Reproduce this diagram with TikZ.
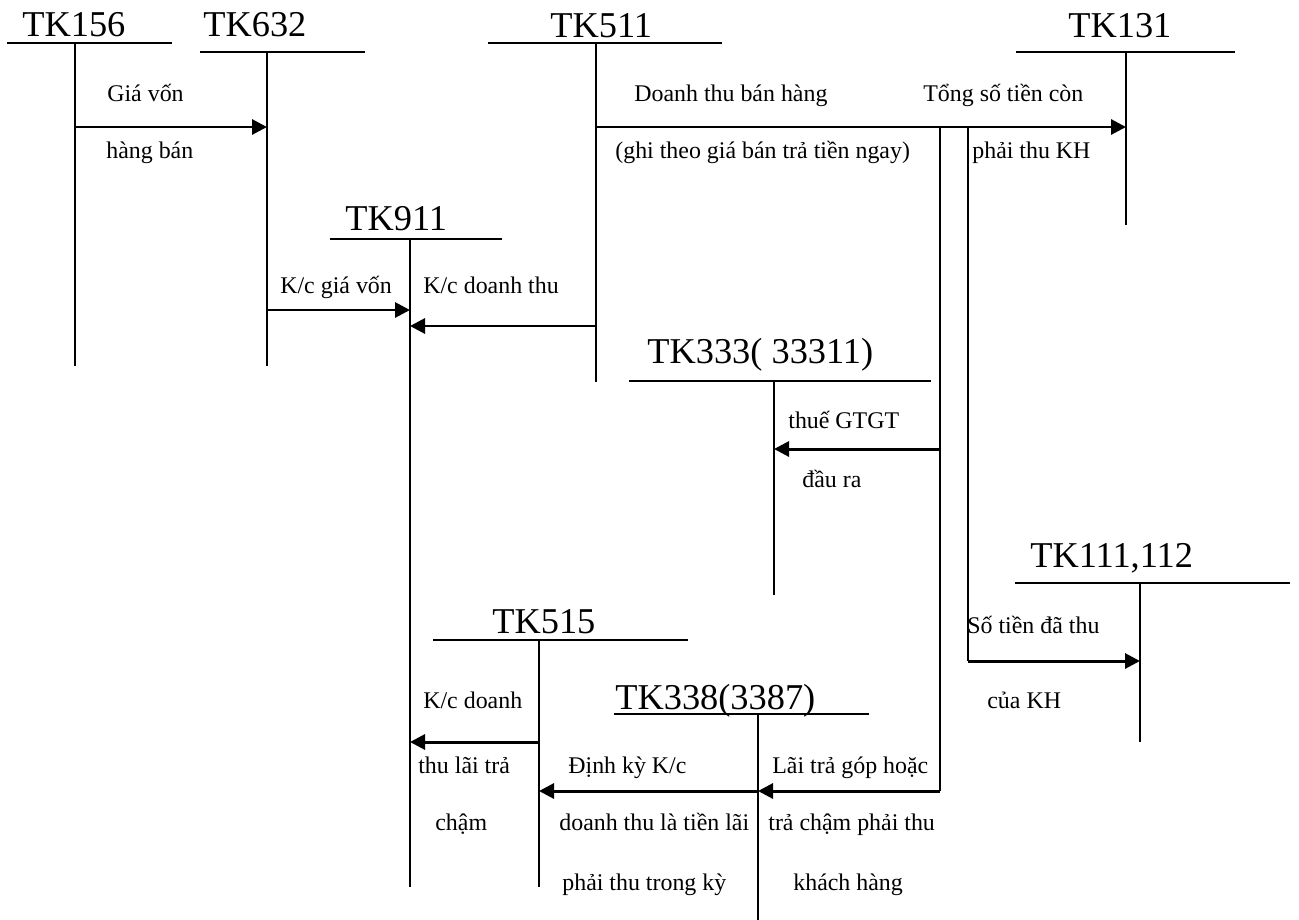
\documentclass[tikz,border=0pt]{standalone}
\usepackage{fontspec}
\setmainfont{Liberation Serif}
\usetikzlibrary{arrows.meta}
\tikzstyle{title} = [anchor=base west, inner sep=0pt, font=\fontsize{20.7}{24}\selectfont]
\tikzstyle{note} = [anchor=base west, inner sep=0pt, font=\fontsize{13.6}{16}\selectfont]
\tikzstyle{tline} = [line width=1.1pt]
\tikzstyle{arrow} = [line width=1.7pt, -{Triangle[length=0.3cm,width=0.3cm]}]

\begin{document}
\begin{tikzpicture}[x=0.02cm, y=-0.02cm]
\useasboundingbox (0,0) rectangle (1299,920);
% T accounts
\node[title] (tk156) at (22,36) {TK156};
\draw[tline] (7,43) -- (172,43) (75,43) -- (75,366);
\node[title] (tk632) at (203,36) {TK632};
\draw[tline] (200,52) -- (365,52) (267,52) -- (267,366);
\node[title] (tk511) at (550,37) {TK511};
\draw[tline] (488,43) -- (722,43) (596,43) -- (596,382);
\node[title] (tk131) at (1068,37) {TK131};
\draw[tline] (1016,52) -- (1235,52) (1126,52) -- (1126,225);
\node[title] (tk911) at (345,230) {TK911};
\draw[tline] (330,239) -- (502,239) (410,239) -- (410,887);
\node[title] (tk333) at (647,363) {TK333( 33311)};
\draw[tline] (629,381) -- (931,381) (774,381) -- (774,595);
\node[title] (tk111) at (1030,567) {TK111,112};
\draw[tline] (1015,583) -- (1290,583) (1140,583) -- (1140,742);
\node[title] (tk515) at (492,633) {TK515};
\draw[tline] (433,640) -- (688,640) (539,640) -- (539,887);
\node[title] (tk338) at (615,709) {TK338(3387)};
\draw[tline] (614,714) -- (869,714) (758,714) -- (758,920);

% points on the accounts
\coordinate (a156) at (75,127);
\coordinate (a632) at (267,127);
\coordinate (b632) at (267,310);
\coordinate (b911) at (410,310);
\coordinate (c511) at (596,326);
\coordinate (c911) at (410,326);
\coordinate (d511) at (596,127);
\coordinate (d131) at (1126,127);
\coordinate (top1) at (940,127);
\coordinate (top2) at (968,127);
\coordinate (e1) at (940,449);
\coordinate (e333) at (774,449);
\coordinate (f1) at (940,791);
\coordinate (f338) at (758,791);
\coordinate (g2) at (968,661);
\coordinate (g111) at (1140,661);
\coordinate (h515) at (539,791);
\coordinate (k515) at (539,742);
\coordinate (k911) at (410,742);

\draw[arrow] (a156) -- (a632);
\node[note] (n1) at (107,101) {Giá vốn};
\node[note] (n2) at (106,158) {hàng bán};
\draw[arrow] (b632) -- (b911);
\node[note] (n3) at (280,293) {K/c giá vốn};
\draw[arrow] (c511) -- (c911);
\node[note] (n4) at (423,293) {K/c doanh thu};
\draw[arrow] (d511) -- (d131);
\node[note] (n5) at (634,101) {Doanh thu bán hàng};
\node[note] (n6) at (615,158) {(ghi theo giá bán trả tiền ngay)};
\node[note] (n7) at (923,101) {Tổng số tiền còn};
\node[note] (n8) at (972,158) {phải thu KH};
\draw[tline] (top1) -- (f1);
\draw[tline] (top2) -- (g2);
\draw[arrow] (e1) -- (e333);
\node[note] (n9) at (788,428) {thuế GTGT};
\node[note] (n10) at (802,487) {đầu ra};
\draw[arrow] (g2) -- (g111);
\node[note] (n11) at (967,633) {Số tiền đã thu};
\node[note] (n12) at (987,708) {của KH};
\draw[arrow] (f1) -- (f338);
\node[note] (n13) at (772,773) {Lãi trả góp hoặc};
\node[note] (n14) at (768,830) {trả chậm phải thu};
\node[note] (n15) at (793,890) {khách hàng};
\draw[arrow] (f338) -- (h515);
\node[note] (n16) at (568,773) {Định kỳ K/c};
\node[note] (n17) at (559,830) {doanh thu là tiền lãi};
\node[note] (n18) at (562,890) {phải thu trong kỳ};
\draw[arrow] (k515) -- (k911);
\node[note] (n19) at (423,708) {K/c doanh};
\node[note] (n20) at (418,773) {thu lãi trả};
\node[note] (n21) at (435,830) {chậm};
\end{tikzpicture}
\end{document}
